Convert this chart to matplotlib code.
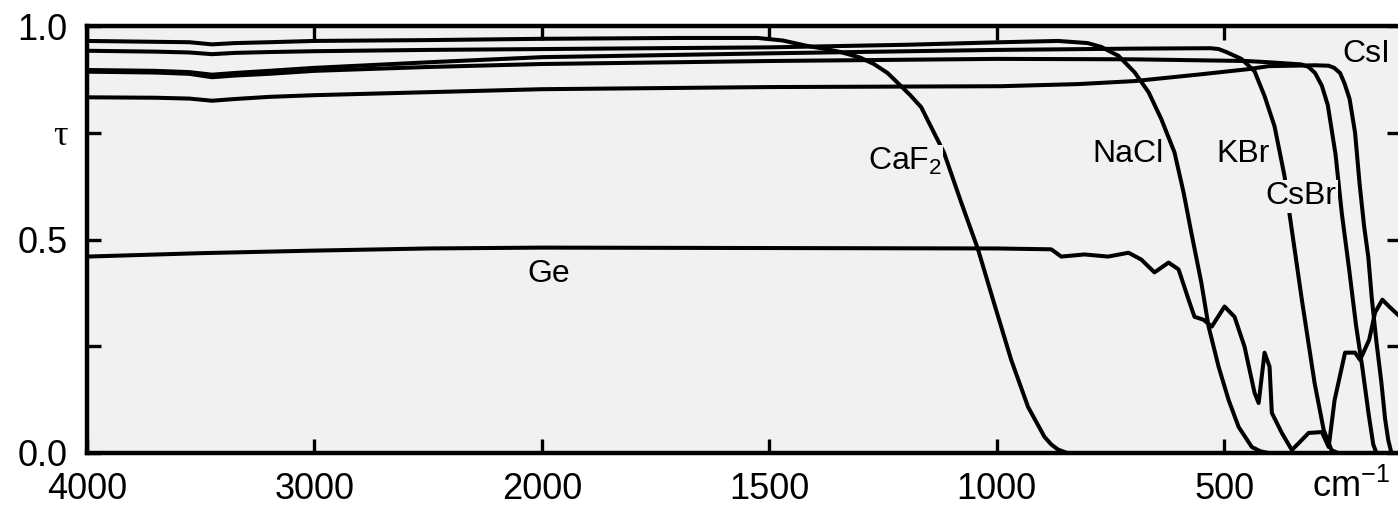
import numpy as np
import matplotlib.pyplot as plt

plt.rcParams['font.family'] = ['Liberation Sans', 'DejaVu Sans']
plt.rcParams['mathtext.fontset'] = 'custom'
plt.rcParams['mathtext.rm'] = 'Liberation Sans'
plt.rcParams['mathtext.it'] = 'Liberation Sans:italic'

# transmission spectra, wavenumber in cm-1 and transmittance tau
caf2_w = [4000, 3700, 3550, 3450, 3350, 3200, 3000, 2500, 2000, 1700, 1525, 1470, 1415, 1380, 1343,
          1300, 1270, 1240, 1210, 1190, 1166, 1116, 1078, 1041, 1006, 968, 931, 895, 880, 865, 845]
caf2_t = [0.965, 0.963, 0.962, 0.957, 0.960, 0.962, 0.965, 0.967, 0.970, 0.972, 0.972, 0.966, 0.953,
          0.947, 0.939, 0.926, 0.911, 0.890, 0.859, 0.838, 0.810, 0.704, 0.587, 0.477, 0.352, 0.218,
          0.108, 0.038, 0.020, 0.008, 0.0]

nacl_w = [4000, 3700, 3550, 3450, 3350, 3200, 3000, 2500, 2000, 1500, 1200, 990, 865, 800, 770,
          732, 697, 666, 638, 609, 589, 572, 550, 534, 512, 490, 468, 439, 420, 402]
nacl_t = [0.942, 0.940, 0.938, 0.934, 0.937, 0.939, 0.941, 0.944, 0.946, 0.950, 0.956, 0.962, 0.965,
          0.960, 0.951, 0.930, 0.892, 0.845, 0.782, 0.704, 0.61, 0.516, 0.399, 0.296, 0.202, 0.124,
          0.061, 0.014, 0.004, 0.0]

kbr_w = [4000, 3700, 3550, 3450, 3350, 3200, 3000, 2500, 2000, 1500, 1000, 700, 530, 512, 495,
         462, 433, 411, 389, 367, 356, 329, 301, 281, 264, 250]
kbr_t = [0.897, 0.895, 0.892, 0.886, 0.890, 0.895, 0.902, 0.915, 0.927, 0.936, 0.944, 0.947, 0.948,
         0.946, 0.939, 0.923, 0.894, 0.836, 0.765, 0.648, 0.559, 0.359, 0.164, 0.054, 0.007, 0.0]

csbr_w = [4000, 3700, 3550, 3450, 3350, 3200, 3000, 2500, 2000, 1500, 1000, 700, 450, 400, 330,
          314, 300, 285, 272, 255, 241, 225, 210, 196, 182, 172, 165]
csbr_t = [0.893, 0.891, 0.888, 0.880, 0.884, 0.888, 0.895, 0.904, 0.911, 0.918, 0.923, 0.922, 0.918,
          0.915, 0.910, 0.904, 0.89, 0.86, 0.815, 0.70, 0.56, 0.43, 0.30, 0.20, 0.09, 0.02, 0.0]

csi_w = [4000, 3700, 3550, 3450, 3350, 3200, 3000, 2500, 2000, 1500, 990, 820, 697, 550, 446, 402,
         300, 270, 258, 245, 235, 224, 212, 202, 192, 183, 175, 165, 154, 146, 139, 132]
csi_t = [0.833, 0.832, 0.830, 0.825, 0.829, 0.834, 0.838, 0.845, 0.852, 0.857, 0.859, 0.864, 0.871,
         0.887, 0.899, 0.906, 0.908, 0.907, 0.902, 0.89, 0.865, 0.829, 0.75, 0.63, 0.53, 0.46, 0.36,
         0.26, 0.164, 0.08, 0.03, 0.0]

ge_w = [4000, 3500, 3000, 2500, 2000, 1500, 1000, 880, 858, 807, 755, 710, 682, 653, 622, 600,
        578, 565, 545, 527, 499, 477, 455, 433, 424, 411, 400, 395, 373, 351, 336, 314, 285,
        270, 257, 234, 212, 201, 181, 168, 152, 137, 113]
ge_t = [0.460, 0.468, 0.474, 0.479, 0.481, 0.480, 0.479, 0.477, 0.460, 0.465, 0.460, 0.469, 0.453,
        0.423, 0.446, 0.430, 0.359, 0.319, 0.312, 0.296, 0.343, 0.319, 0.249, 0.141, 0.117, 0.235,
        0.202, 0.094, 0.047, 0.007, 0.023, 0.047, 0.049, 0.014, 0.124, 0.235, 0.235, 0.218, 0.265,
        0.329, 0.359, 0.343, 0.319]

# curve name, label position (cm-1, tau)
labels = ['CaF$_2$', 'NaCl', 'KBr', 'CsBr', 'CsI', 'Ge']
label_w = [1202, 712, 459, 331, 188, 1986]
label_t = [0.683, 0.700, 0.700, 0.601, 0.934, 0.420]

xticks = [4000, 3000, 2000, 1500, 1000, 500]


# scale is halved above 2000 cm-1
def fwd(w):
    w = np.asarray(w, dtype=float)
    return np.where(w > 2000, 2000 + (w - 2000) / 2, w)


def inv(u):
    u = np.asarray(u, dtype=float)
    return np.where(u > 2000, 2000 + (u - 2000) * 2, u)


fig = plt.figure(figsize=(13.98, 5.05), dpi=100)
ax = fig.add_axes([87 / 1398, 52 / 505, 1314 / 1398, 427 / 505])
ax.set_facecolor('#f1f1f1')
ax.set_xscale('function', functions=(fwd, inv))

for w, t in [(caf2_w, caf2_t), (nacl_w, nacl_t), (kbr_w, kbr_t),
             (csbr_w, csbr_t), (csi_w, csi_t), (ge_w, ge_t)]:
    ax.plot(w, t, color='black', lw=2.9, solid_joinstyle='round', solid_capstyle='round')

for s, w, t in zip(labels, label_w, label_t):
    ax.text(w, t, s, fontsize=23, ha='center', va='center',
            bbox=dict(facecolor='#f1f1f1', edgecolor='none', pad=1))

ax.set_xlim(4000, 111)
ax.set_ylim(0, 1.0)
ax.set_xticks(xticks, labels=[str(v) for v in xticks])
ax.set_xticks([221], labels=['cm$^{-1}$'], minor=True)
ax.set_yticks([0, 0.25, 0.5, 0.75, 1.0], labels=['0.0', '', '0.5', 'τ', '1.0'])
ax.get_yticklabels()[3].set_family('Liberation Serif')

for sp in ax.spines.values():
    sp.set_linewidth(3.2)
ax.tick_params(which='major', direction='in', length=10, width=2.4,
               top=True, right=True, labelsize=26)
ax.tick_params(axis='x', which='major', pad=14)
ax.tick_params(axis='y', which='major', pad=14)
ax.tick_params(axis='x', which='minor', length=0, pad=11.5, labelsize=26, top=False)

fig.savefig('out.png', dpi=100)
